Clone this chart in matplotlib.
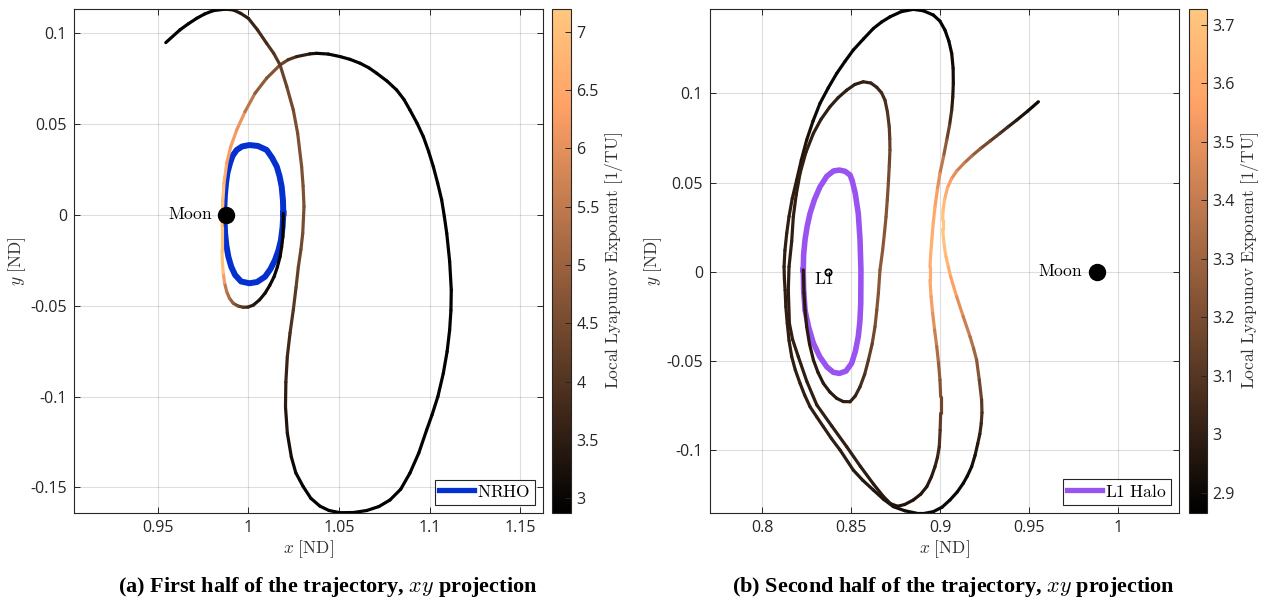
import numpy as np
import matplotlib
matplotlib.use('Agg')
import matplotlib.pyplot as plt
from matplotlib.collections import LineCollection
from matplotlib.lines import Line2D
from matplotlib.colors import Normalize
from matplotlib.cm import ScalarMappable

plt.rcParams['mathtext.fontset'] = 'cm'
plt.rcParams['font.family'] = ['Open Sans', 'DejaVu Sans']
plt.rcParams['axes.unicode_minus'] = False

# ---------------- data ----------------
moon_x = 0.98785
l1_x = 0.83692

# NRHO (panel a)
nrho_x = [1.0193, 1.0191, 1.0184, 1.0172, 1.0157, 1.0131, 1.0101, 1.0053, 1.0006, 0.9965,
          0.9936, 0.9913, 0.9899, 0.9885, 0.9877, 0.9871, 0.9868, 0.9869, 0.9872, 0.9879,
          0.9890, 0.9906, 0.9927, 0.9960, 1.0006, 1.0048, 1.0092, 1.0122, 1.0147, 1.0166,
          1.0180, 1.0189, 1.0193]
nrho_y = [0.0009, 0.0080, 0.0156, 0.0215, 0.0266, 0.0315, 0.0358, 0.0380, 0.0385, 0.0377,
          0.0358, 0.0325, 0.0285, 0.0232, 0.0175, 0.0110, 0.0046, -0.0030, -0.0101, -0.0167,
          -0.0230, -0.0285, -0.0330, -0.0366, -0.0376, -0.0369, -0.0340, -0.0298, -0.0248, -0.0195,
          -0.0138, -0.0065, 0.0009]

# first half of the transfer (panel a)
traj1_x = [1.0193, 1.0192, 1.0190, 1.0184, 1.0175, 1.0160, 1.0142, 1.0118, 1.0092, 1.0062,
           1.0028, 0.9999, 0.9972, 0.9943, 0.9917, 0.9896, 0.9881, 0.9869, 0.9862, 0.9857,
           0.9855, 0.9855, 0.9859, 0.9866, 0.9881, 0.9903, 0.9936, 0.9982, 1.0037, 1.0101,
           1.0175, 1.0220, 1.0267, 1.0340, 1.0377, 1.0440, 1.0506, 1.0560, 1.0617, 1.0665,
           1.0708, 1.0765, 1.0818, 1.0858, 1.0891, 1.0930, 1.0965, 1.0994, 1.1020, 1.1044,
           1.1066, 1.1081, 1.1094, 1.1110, 1.1119, 1.1117, 1.1110, 1.1096, 1.1075, 1.1045,
           1.1013, 1.0983, 1.0940, 1.0891, 1.0840, 1.0781, 1.0720, 1.0653, 1.0580, 1.0506,
           1.0445, 1.0395, 1.0345, 1.0303, 1.0262, 1.0237, 1.0215, 1.0205, 1.0207, 1.0215,
           1.0230, 1.0248, 1.0263, 1.0276, 1.0290, 1.0300, 1.0307, 1.0302, 1.0294, 1.0272,
           1.0248, 1.0212, 1.0175, 1.0140, 1.0101, 1.0050, 1.0000, 0.9958, 0.9917, 0.9872,
           0.9807, 0.9760, 0.9716, 0.9670, 0.9623, 0.9545]
traj1_y = [0.0009, -0.0060, -0.0119, -0.0175, -0.0230, -0.0287, -0.0340, -0.0388, -0.0431, -0.0467,
           -0.0496, -0.0507, -0.0508, -0.0501, -0.0486, -0.0458, -0.0422, -0.0373, -0.0321, -0.0257,
           -0.0193, -0.0064, 0.0064, 0.0175, 0.0285, 0.0376, 0.0468, 0.0569, 0.0670, 0.0753,
           0.0826, 0.0855, 0.0872, 0.0887, 0.0890, 0.0886, 0.0872, 0.0857, 0.0835, 0.0810,
           0.0780, 0.0737, 0.0688, 0.0636, 0.0578, 0.0506, 0.0431, 0.0350, 0.0266, 0.0175,
           0.0083, -0.0010, -0.0101, -0.0255, -0.0413, -0.0525, -0.0633, -0.0752, -0.0872, -0.1000,
           -0.1100, -0.1184, -0.1310, -0.1421, -0.1510, -0.1569, -0.1605, -0.1627, -0.1638, -0.1639,
           -0.1627, -0.1603, -0.1560, -0.1496, -0.1420, -0.1331, -0.1200, -0.1056, -0.0920, -0.0780,
           -0.0650, -0.0523, -0.0400, -0.0285, -0.0190, -0.0101, 0.0046, 0.0160, 0.0266, 0.0450,
           0.0578, 0.0707, 0.0826, 0.0890, 0.0945, 0.1020, 0.1083, 0.1110, 0.1129, 0.1133,
           0.1125, 0.1107, 0.1083, 0.1053, 0.1019, 0.0949]
traj1_lle = [3.0, 3.0, 3.0, 3.0, 3.0, 3.0, 3.05, 3.05, 3.1, 3.2,
             3.3, 3.6, 3.9, 4.3, 4.7, 5.1, 5.4, 5.6, 6.9, 7.1,
             7.1, 7.1, 7.1, 7.0, 6.3, 6.3, 6.2, 6.0, 4.9, 4.8,
             4.5, 4.1, 3.8, 3.3, 3.1, 3.0, 2.95, 2.9, 2.9, 2.9,
             2.9, 2.9, 2.9, 2.9, 2.9, 2.9, 2.9, 2.9, 2.9, 2.9,
             2.9, 2.9, 2.9, 2.9, 2.9, 2.9, 2.9, 2.9, 2.9, 2.9,
             2.9, 2.9, 2.9, 2.9, 2.9, 2.9, 2.9, 2.9, 2.9, 2.9,
             2.9, 2.9, 2.9, 2.95, 3.0, 3.1, 3.25, 3.4, 3.55, 3.7,
             3.85, 4.0, 4.15, 4.3, 4.4, 4.5, 4.6, 4.6, 4.6, 4.6,
             4.5, 4.4, 4.2, 4.05, 3.9, 3.75, 3.6, 3.45, 3.3, 3.1,
             3.0, 2.95, 2.95, 2.9, 2.9, 2.9]

# L1 halo (panel b)
halo_x = [0.8230, 0.8232, 0.8240, 0.8252, 0.8268, 0.8293, 0.8324, 0.8362, 0.8400, 0.8433,
          0.8465, 0.8493, 0.8505, 0.8522, 0.8539, 0.8549, 0.8554, 0.8553, 0.8548, 0.8539,
          0.8523, 0.8502, 0.8470, 0.8433, 0.8399, 0.8362, 0.8322, 0.8287, 0.8260, 0.8240,
          0.8232, 0.8230]
halo_y = [0.0010, 0.0095, 0.0180, 0.0255, 0.0327, 0.0405, 0.0476, 0.0535, 0.0565, 0.0570,
          0.0563, 0.0542, 0.0510, 0.0440, 0.0327, 0.0178, 0.0010, -0.0177, -0.0280, -0.0364,
          -0.0445, -0.0513, -0.0557, -0.0570, -0.0564, -0.0533, -0.0475, -0.0401, -0.0310, -0.0215,
          -0.0100, 0.0010]

# second half of the transfer (panel b)
traj2_x = [0.9551, 0.9490, 0.9429, 0.9380, 0.9335, 0.9280, 0.9225, 0.9180, 0.9135, 0.9092,
           0.9062, 0.9040, 0.9024, 0.9015, 0.9013, 0.9013, 0.9017, 0.9023, 0.9032, 0.9045,
           0.9058, 0.9092, 0.9129, 0.9167, 0.9187, 0.9204, 0.9219, 0.9232, 0.9234, 0.9230,
           0.9222, 0.9210, 0.9195, 0.9176, 0.9152, 0.9129, 0.9095, 0.9054, 0.9010, 0.8961,
           0.8915, 0.8867, 0.8800, 0.8736, 0.8680, 0.8624, 0.8565, 0.8511, 0.8437, 0.8388,
           0.8343, 0.8305, 0.8268, 0.8238, 0.8212, 0.8185, 0.8165, 0.8150, 0.8140, 0.8132,
           0.8128, 0.8124, 0.8122, 0.8127, 0.8137, 0.8150, 0.8168, 0.8193, 0.8219, 0.8249,
           0.8285, 0.8324, 0.8370, 0.8418, 0.8465, 0.8511, 0.8568, 0.8624, 0.8670, 0.8717,
           0.8780, 0.8848, 0.8905, 0.8961, 0.8998, 0.9026, 0.9048, 0.9064, 0.9072, 0.9073,
           0.9070, 0.9064, 0.9052, 0.9036, 0.9018, 0.8998, 0.8983, 0.8970, 0.8960, 0.8952,
           0.8946, 0.8942, 0.8942, 0.8948, 0.8957, 0.8968, 0.8980, 0.8990, 0.8998, 0.9002,
           0.9002, 0.8999, 0.8994, 0.8984, 0.8970, 0.8950, 0.8924, 0.8890, 0.8848, 0.8800,
           0.8760, 0.8720, 0.8680, 0.8624, 0.8550, 0.8474, 0.8390, 0.8306, 0.8250, 0.8202,
           0.8170, 0.8152, 0.8146, 0.8150, 0.8165, 0.8174, 0.8190, 0.8212, 0.8245, 0.8287,
           0.8330, 0.8380, 0.8425, 0.8474, 0.8520, 0.8567, 0.8610, 0.8643, 0.8670, 0.8689,
           0.8703, 0.8713, 0.8716, 0.8717, 0.8713, 0.8708, 0.8702, 0.8695, 0.8686, 0.8676,
           0.8661, 0.8652, 0.8643, 0.8633, 0.8617, 0.8596, 0.8575, 0.8549, 0.8522, 0.8493,
           0.8455, 0.8418, 0.8380, 0.8343, 0.8313, 0.8287, 0.8265, 0.8249, 0.8240, 0.8234,
           0.8230]
traj2_y = [0.0953, 0.0900, 0.0850, 0.0812, 0.0776, 0.0733, 0.0690, 0.0652, 0.0610, 0.0565,
           0.0520, 0.0470, 0.0405, 0.0340, 0.0290, 0.0240, 0.0196, 0.0140, 0.0084, 0.0028,
           -0.0028, -0.0140, -0.0252, -0.0364, -0.0430, -0.0495, -0.0607, -0.0719, -0.0790, -0.0850,
           -0.0910, -0.0965, -0.1030, -0.1093, -0.1145, -0.1186, -0.1235, -0.1280, -0.1320, -0.1345,
           -0.1354, -0.1354, -0.1340, -0.1317, -0.1275, -0.1224, -0.1170, -0.1112, -0.1000, -0.0935,
           -0.0869, -0.0813, -0.0757, -0.0692, -0.0626, -0.0550, -0.0476, -0.0385, -0.0289, -0.0196,
           -0.0103, -0.0040, 0.0028, 0.0120, 0.0215, 0.0310, 0.0410, 0.0514, 0.0626, 0.0738,
           0.0845, 0.0944, 0.1030, 0.1112, 0.1180, 0.1243, 0.1305, 0.1364, 0.1400, 0.1429,
           0.1458, 0.1471, 0.1463, 0.1439, 0.1405, 0.1355, 0.1293, 0.1224, 0.1140, 0.1056,
           0.0980, 0.0906, 0.0822, 0.0738, 0.0645, 0.0552, 0.0458, 0.0364, 0.0270, 0.0178,
           0.0100, 0.0028, -0.0047, -0.0140, -0.0233, -0.0327, -0.0420, -0.0513, -0.0607, -0.0700,
           -0.0794, -0.0888, -0.0981, -0.1040, -0.1093, -0.1150, -0.1205, -0.1247, -0.1280, -0.1305,
           -0.1315, -0.1300, -0.1260, -0.1190, -0.1090, -0.0981, -0.0865, -0.0747, -0.0615, -0.0476,
           -0.0380, -0.0289, -0.0103, 0.0028, 0.0170, 0.0308, 0.0430, 0.0552, 0.0670, 0.0776,
           0.0855, 0.0925, 0.0975, 0.1018, 0.1050, 0.1065, 0.1058, 0.1034, 0.1003, 0.0962,
           0.0895, 0.0813, 0.0745, 0.0682, 0.0590, 0.0496, 0.0402, 0.0308, 0.0215, 0.0122,
           0.0010, -0.0121, -0.0215, -0.0308, -0.0405, -0.0495, -0.0575, -0.0645, -0.0697, -0.0729,
           -0.0728, -0.0710, -0.0675, -0.0626, -0.0565, -0.0495, -0.0405, -0.0308, -0.0215, -0.0121,
           0.0010]
traj2_lle = [2.88, 2.92, 2.96, 3.02, 3.08, 3.15, 3.22, 3.3, 3.38, 3.45,
             3.52, 3.58, 3.64, 3.7, 3.72, 3.72, 3.72, 3.7, 3.67, 3.63,
             3.6, 3.52, 3.45, 3.38, 3.33, 3.28, 3.2, 3.13, 3.09, 3.05,
             3.01, 2.98, 2.95, 2.92, 2.9, 2.9, 2.9, 2.9, 2.9, 2.9,
             2.9, 2.9, 2.92, 2.93, 2.95, 2.96, 2.97, 2.98, 3.0, 3.0,
             3.0, 3.0, 3.0, 3.0, 3.0, 3.0, 3.0, 3.0, 3.0, 3.0,
             3.0, 3.0, 3.0, 3.0, 3.0, 3.0, 2.99, 2.98, 2.96, 2.94,
             2.92, 2.9, 2.89, 2.88, 2.88, 2.88, 2.88, 2.88, 2.88, 2.88,
             2.88, 2.88, 2.88, 2.88, 2.88, 2.88, 2.89, 2.9, 2.91, 2.93,
             2.96, 3.0, 3.1, 3.2, 3.32, 3.45, 3.52, 3.58, 3.6, 3.62,
             3.62, 3.62, 3.6, 3.57, 3.52, 3.45, 3.38, 3.3, 3.25, 3.2,
             3.15, 3.1, 3.05, 3.02, 3.0, 2.98, 2.97, 2.96, 2.95, 2.95,
             2.95, 2.96, 2.97, 2.98, 2.99, 3.0, 3.0, 3.0, 3.0, 3.0,
             3.0, 3.0, 3.0, 3.0, 3.0, 3.0, 3.0, 3.0, 3.0, 3.0,
             3.0, 3.0, 3.0, 3.0, 3.0, 3.0, 3.01, 3.02, 3.04, 3.06,
             3.08, 3.1, 3.13, 3.15, 3.18, 3.2, 3.22, 3.23, 3.24, 3.25,
             3.25, 3.24, 3.22, 3.2, 3.16, 3.12, 3.08, 3.05, 3.02, 3.0,
             2.99, 2.98, 2.98, 2.98, 2.98, 2.98, 2.98, 2.98, 2.98, 2.98,
             2.98]

xticks_a = [0.95, 1.0, 1.05, 1.1, 1.15]
yticks_a = [-0.15, -0.1, -0.05, 0.0, 0.05, 0.1]
cticks_a = [3, 3.5, 4, 4.5, 5, 5.5, 6, 6.5, 7]
xticks_b = [0.8, 0.85, 0.9, 0.95, 1.0]
yticks_b = [-0.1, -0.05, 0.0, 0.05, 0.1]
cticks_b = [2.9, 3.0, 3.1, 3.2, 3.3, 3.4, 3.5, 3.6, 3.7]

captions = [r'(a) First half of the trajectory, $xy$ projection',
            r'(b) Second half of the trajectory, $xy$ projection']

# ---------------- styling ----------------
INK = '#262626'
NRHO_C = '#0530d0'
HALO_C = '#9953f0'
cmap = plt.get_cmap('copper')

W, H = 1270, 605
fig = plt.figure(figsize=(W / 100, H / 100), dpi=100)


def fx(px):
    return px / W


def fy(py):
    return 1 - py / H


def colored_line(ax, x, y, c, norm, lw):
    x = np.asarray(x); y = np.asarray(y); c = np.asarray(c)
    pts = np.column_stack([x, y]).reshape(-1, 1, 2)
    segs = np.concatenate([pts[:-1], pts[1:]], axis=1)
    vals = 0.5 * (c[:-1] + c[1:])
    lc = LineCollection(segs, cmap=cmap, norm=norm, linewidths=lw,
                        capstyle='round', joinstyle='round', zorder=3)
    lc.set_array(vals)
    ax.add_collection(lc)
    return lc


def style_axes(ax, xlim, ylim, xticks, yticks):
    ax.set_xlim(xlim)
    ax.set_ylim(ylim)
    ax.set_xticks(xticks)
    ax.set_yticks(yticks)
    ax.set_xticklabels(['%g' % t for t in xticks])
    ax.set_yticklabels(['%g' % t for t in yticks])
    ax.grid(True, color=INK, alpha=0.15, linewidth=0.8)
    ax.set_axisbelow(True)
    ax.tick_params(direction='in', top=True, right=True, length=4, width=0.7,
                   colors=INK, labelsize=11.5, pad=5)
    for s in ax.spines.values():
        s.set_color(INK)
        s.set_linewidth(0.8)
    ax.set_xlabel(r'$x\ \mathrm{[ND]}$', fontsize=12.5, color='#333333', labelpad=2)
    ax.set_ylabel(r'$y\ \mathrm{[ND]}$', fontsize=12.5, color='#333333', labelpad=2)


def add_cbar(rect, norm, ticks):
    cax = fig.add_axes(rect)
    cb = fig.colorbar(ScalarMappable(norm=norm, cmap=cmap), cax=cax)
    cb.set_ticks(ticks)
    cb.set_ticklabels(['%g' % t for t in ticks])
    cax.tick_params(direction='in', length=4, width=0.7, colors=INK, labelsize=11.5, pad=4)
    cb.outline.set_edgecolor(INK)
    cb.outline.set_linewidth(0.8)
    cb.set_label(r'$\mathrm{Local\ Lyapunov\ Exponent\ [1/TU]}$', fontsize=12.5,
                 color='#333333', labelpad=3)
    return cb


top, bot = 9, 512.7

# ---------------- panel (a) ----------------
ax1 = fig.add_axes([fx(74), fy(bot), fx(542.7 - 74), (bot - top) / H])
norm1 = Normalize(2.877, 7.195)
ax1.plot(nrho_x, nrho_y, color=NRHO_C, lw=4.3, solid_joinstyle='round', zorder=2)
colored_line(ax1, traj1_x, traj1_y, traj1_lle, norm1, 2.3)
ax1.plot([moon_x], [0], 'o', color='k', ms=11.5, zorder=5)
ax1.annotate(r'$\mathrm{Moon}$', (moon_x, 0), xytext=(-10, 0), textcoords='offset points',
             ha='right', va='center', fontsize=12.5, color='k', zorder=6)
style_axes(ax1, (0.9039, 1.1623), (-0.1639, 0.1134), xticks_a, yticks_a)
leg1 = ax1.legend(handles=[Line2D([], [], color=NRHO_C, lw=3.8)], labels=[r'$\mathrm{NRHO}$'],
                  loc='lower right', fancybox=False, edgecolor=INK, framealpha=1, fontsize=12.5,
                  handlelength=2.0, borderaxespad=0.45, borderpad=0.25, handletextpad=0.2)
leg1.get_frame().set_linewidth(0.8)
add_cbar([fx(552), fy(bot), fx(19), (bot - top) / H], norm1, cticks_a)

# ---------------- panel (b) ----------------
ax2 = fig.add_axes([fx(710), fy(bot), fx(1179 - 710), (bot - top) / H])
norm2 = Normalize(2.866, 3.727)
ax2.plot(halo_x, halo_y, color=HALO_C, lw=4.0, solid_joinstyle='round', zorder=2)
colored_line(ax2, traj2_x, traj2_y, traj2_lle, norm2, 2.3)
ax2.plot([moon_x], [0], 'o', color='k', ms=11.5, zorder=5)
ax2.annotate(r'$\mathrm{Moon}$', (moon_x, 0), xytext=(-10, 0), textcoords='offset points',
             ha='right', va='center', fontsize=12.5, color='k', zorder=6)
ax2.plot([l1_x], [0], 'o', mfc='white', mec='k', ms=4.5, mew=1.3, zorder=5)
ax2.annotate(r'$\mathrm{L1}$', (l1_x, 0), xytext=(-2.7, -0.5), textcoords='offset points',
             ha='center', va='top', fontsize=12.5, color='k', zorder=6)
style_axes(ax2, (0.7706, 1.0341), (-0.1351, 0.1473), xticks_b, yticks_b)
leg2 = ax2.legend(handles=[Line2D([], [], color=HALO_C, lw=3.8)], labels=[r'$\mathrm{L1\ Halo}$'],
                  loc='lower right', fancybox=False, edgecolor=INK, framealpha=1, fontsize=12.5,
                  handlelength=2.0, borderaxespad=0.45, borderpad=0.25, handletextpad=0.2)
leg2.get_frame().set_linewidth(0.8)
add_cbar([fx(1188.7), fy(bot), fx(18), (bot - top) / H], norm2, cticks_b)

# ---------------- captions ----------------
fig.text(fx(328), fy(587), captions[0], ha='center', va='center',
         fontfamily='Liberation Serif', fontweight='bold', fontsize=16)
fig.text(fx(953), fy(587), captions[1], ha='center', va='center',
         fontfamily='Liberation Serif', fontweight='bold', fontsize=16)

fig.savefig('out.png', dpi=100)
